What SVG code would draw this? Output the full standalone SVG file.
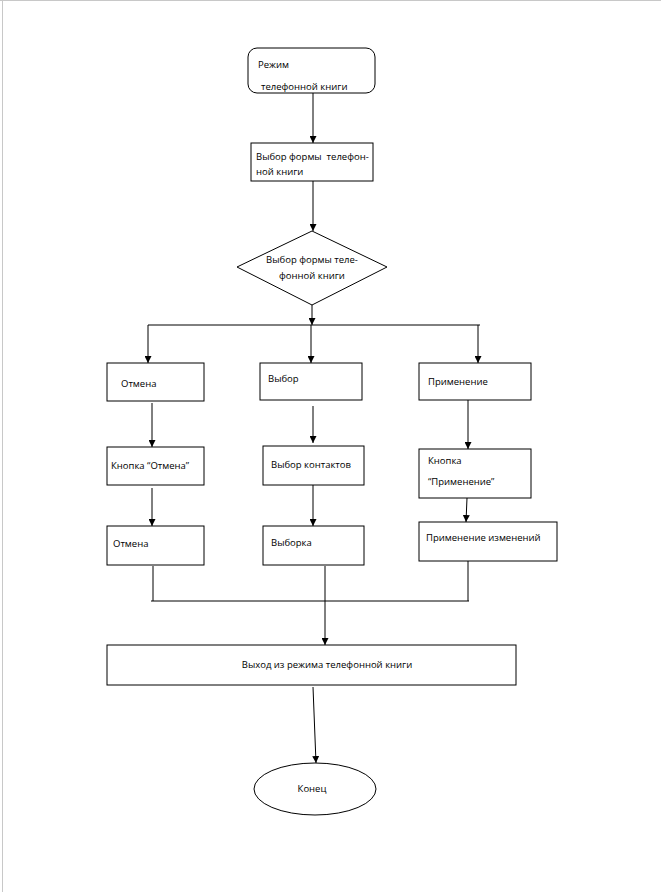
<svg xmlns="http://www.w3.org/2000/svg" width="661" height="892" viewBox="0 0 661 892">
<defs>
<style>
.n{fill:#fff;stroke:#000;stroke-width:1}
.t{font-family:"Open Sans","Liberation Sans",sans-serif;font-size:9.5px;fill:#000;white-space:pre}
.c{fill:none;stroke:#000;stroke-width:1}
</style>
<marker id="a" viewBox="0 0 10 10" refX="10" refY="5" markerWidth="7" markerHeight="7" orient="auto" markerUnits="userSpaceOnUse"><path d="M0,0L10,5L0,10z" fill="#000"/></marker>
</defs>
<rect width="661" height="892" fill="#fff"/>
<path d="M0,0.5H661M2.5,0V892" stroke="#c8c8c8" stroke-width="1" fill="none"/>
<g id="connectors">
<path class="c" d="M313,93V143" marker-end="url(#a)"/>
<path class="c" d="M313,181V231" marker-end="url(#a)"/>
<path class="c" d="M312,305V325" marker-end="url(#a)"/>
<path class="c" d="M148,325H480"/>
<path class="c" d="M148,325V363" marker-end="url(#a)"/>
<path class="c" d="M311,325V363" marker-end="url(#a)"/>
<path class="c" d="M478,325V363" marker-end="url(#a)"/>
<path class="c" d="M152,403V447" marker-end="url(#a)"/>
<path class="c" d="M313,406V443" marker-end="url(#a)"/>
<path class="c" d="M468,400V449" marker-end="url(#a)"/>
<path class="c" d="M152,488V526" marker-end="url(#a)"/>
<path class="c" d="M313,485V526" marker-end="url(#a)"/>
<path class="c" d="M467,498L466,522" marker-end="url(#a)"/>
<path class="c" d="M153,566V601M468,561V601M151,601H469"/>
<path class="c" d="M325,566V645" marker-end="url(#a)"/>
<path class="c" d="M313,687L316,763" marker-end="url(#a)"/>
</g>
<g id="n1"><rect class="n" x="248" y="48" width="127" height="45" rx="9"/><text class="t" x="258" y="68">Режим</text><text class="t" x="261" y="90">телефонной книги</text></g>
<g id="n2"><rect class="n" x="251" y="143" width="122" height="38"/><text class="t" x="256" y="160" xml:space="preserve">Выбор формы  телефон-</text><text class="t" x="256" y="175">ной книги</text></g>
<g id="n3"><path class="n" d="M312,231L387,267L312,305L237,267z"/><text class="t" x="312" y="263" text-anchor="middle">Выбор формы теле-</text><text class="t" x="312" y="279" text-anchor="middle">фонной книги</text></g>
<g id="n4"><rect class="n" x="107" y="363" width="97" height="38"/><text class="t" x="121" y="387">Отмена</text></g>
<g id="n5"><rect class="n" x="260" y="363" width="102" height="37"/><text class="t" x="268" y="382">Выбор</text></g>
<g id="n6"><rect class="n" x="419" y="363" width="112" height="37"/><text class="t" x="428" y="385">Применение</text></g>
<g id="n7"><rect class="n" x="107" y="447" width="97" height="38"/><text class="t" x="111" y="469">Кнопка “Отмена”</text></g>
<g id="n8"><rect class="n" x="263" y="446" width="101" height="39"/><text class="t" x="271" y="468">Выбор контактов</text></g>
<g id="n9"><rect class="n" x="419" y="449" width="112" height="49"/><text class="t" x="428" y="464">Кнопка</text><text class="t" x="428" y="485">“Применение”</text></g>
<g id="n10"><rect class="n" x="107" y="526" width="97" height="39"/><text class="t" x="113" y="547">Отмена</text></g>
<g id="n11"><rect class="n" x="263" y="526" width="101" height="39"/><text class="t" x="271" y="546">Выборка</text></g>
<g id="n12"><rect class="n" x="419" y="522" width="138" height="39"/><text class="t" x="426" y="541">Применение изменений</text></g>
<g id="n13"><rect class="n" x="107" y="645" width="409" height="40"/><text class="t" x="327" y="668" text-anchor="middle">Выход из режима телефонной книги</text></g>
<g id="n14"><ellipse class="n" cx="315" cy="789" rx="61" ry="26"/><text class="t" x="312" y="792" text-anchor="middle">Конец</text></g>
</svg>
